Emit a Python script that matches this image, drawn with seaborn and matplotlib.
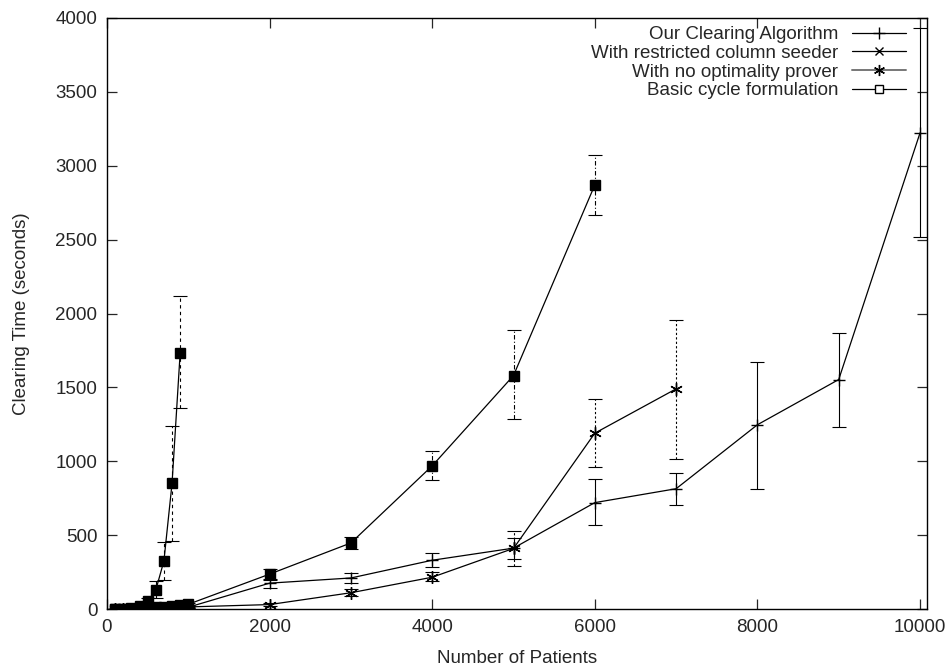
import matplotlib
matplotlib.use("Agg")
import matplotlib.pyplot as plt
from matplotlib.lines import Line2D
import seaborn as sns
import pandas as pd

# ---- data ----
ours_x = [100, 200, 300, 400, 500, 600, 700, 800, 900, 1000,
          2000, 3000, 4000, 5000, 6000, 7000, 8000, 9000, 10000]
ours_y = [1, 1, 2, 2, 3, 4, 5, 7, 9, 12, 175, 210, 330, 412, 720, 814, 1247, 1553, 3222]
ours_lo = [0, 0, 1, 1, 2, 3, 4, 5, 7, 9, 143, 176, 285, 339, 569, 705, 815, 1234, 2515]
ours_hi = [2, 2, 3, 3, 4, 5, 7, 9, 11, 15, 204, 244, 380, 481, 880, 922, 1670, 1871, 3930]

seed_x = [100, 200, 300, 400, 500, 600, 700, 800, 900, 1000, 2000, 3000, 4000, 5000, 6000]
seed_y = [1, 2, 3, 5, 8, 11, 15, 20, 26, 32, 236, 447, 969, 1580, 2870]
seed_lo = [0, 1, 2, 4, 6, 9, 12, 16, 20, 25, 197, 407, 875, 1285, 2670]
seed_hi = [2, 3, 4, 6, 10, 14, 19, 25, 32, 40, 271, 488, 1070, 1885, 3070]

noopt_x = [100, 200, 300, 400, 500, 600, 700, 800, 900, 1000, 2000, 3000, 4000, 5000, 6000, 7000]
noopt_y = [1, 1, 2, 3, 4, 5, 7, 9, 11, 14, 30, 110, 215, 410, 1190, 1490]
noopt_lo = [0, 0, 1, 2, 3, 4, 5, 7, 8, 10, 22, 88, 188, 292, 963, 1015]
noopt_hi = [2, 2, 3, 4, 5, 7, 9, 11, 14, 18, 40, 135, 250, 530, 1424, 1955]

basic_x = [100, 200, 300, 400, 500, 600, 700, 800, 900]
basic_y = [1, 3, 6, 18, 55, 128, 325, 850, 1735]
basic_lo = [0, 2, 4, 12, 35, 75, 195, 460, 1362]
basic_hi = [2, 4, 8, 25, 75, 190, 455, 1240, 2120]

labels = ["Our Clearing Algorithm", "With restricted column seeder",
          "With no optimality prover", "Basic cycle formulation"]

x_ticks = [0, 2000, 4000, 6000, 8000, 10000]
y_ticks = [0, 500, 1000, 1500, 2000, 2500, 3000, 3500, 4000]

# ---- style ----
FS = 13.5
sns.set_style("ticks")
plt.rcParams['font.family'] = ['Liberation Sans', 'DejaVu Sans']
plt.rcParams['font.size'] = FS

fig = plt.figure(figsize=(9.48, 6.68), dpi=100)
ax = fig.add_axes([107 / 948, 1 - 609 / 668, 820 / 948, 591 / 668])

AST = (6, 2, 0)
series = [
    (ours_x, ours_y, ours_lo, ours_hi, "+", (0, ())),
    (seed_x, seed_y, seed_lo, seed_hi, "s", (0, (4, 2, 1, 2))),
    (noopt_x, noopt_y, noopt_lo, noopt_hi, AST, (0, (2, 2))),
    (basic_x, basic_y, basic_lo, basic_hi, "s", (0, (3, 3))),
]

for (xs, ys, lo, hi, mk, els) in series:
    df = pd.DataFrame({"x": xs, "y": ys})
    yerr = [[y - l for y, l in zip(ys, lo)], [h - y for y, h in zip(ys, hi)]]
    eb = ax.errorbar(xs, ys, yerr=yerr, fmt="none", ecolor="black",
                     elinewidth=0.8, capsize=5, capthick=0.8, zorder=2)
    for lc in eb[2]:
        lc.set_linestyle(els)
    sns.lineplot(data=df, x="x", y="y", ax=ax, color="black", marker=mk,
                 markersize=9 if mk != "s" else 7, markeredgecolor="black",
                 markerfacecolor="black", markeredgewidth=1.0, linewidth=0.9,
                 estimator=None, sort=False, legend=False, zorder=3)

ax.set_xlim(0, 10086)
ax.set_ylim(0, 4000)
ax.set_xticks(x_ticks)
ax.set_yticks(y_ticks)
ax.tick_params(direction="in", length=7, width=0.9, top=True, right=True,
               labelsize=FS, pad=7)
for s in ax.spines.values():
    s.set_linewidth(1.0)
    s.set_color("black")
ax.set_xlabel("Number of Patients", fontsize=FS, labelpad=10)
ax.set_ylabel("Clearing Time (seconds)", fontsize=FS, labelpad=18)

handles = [
    Line2D([], [], color="black", lw=0.9, marker="+", ms=8),
    Line2D([], [], color="black", lw=0.9, marker="x", ms=6),
    Line2D([], [], color="#777777", lw=1.4, marker=AST, ms=8, mfc="black", mec="black"),
    Line2D([], [], color="black", lw=0.9, marker="s", ms=6, mfc="white", mec="black"),
]
leg = ax.legend(handles, labels, loc="upper right", frameon=False,
                markerfirst=False, handlelength=2.9, fontsize=FS,
                borderaxespad=0.2, labelspacing=0.08, handletextpad=0.7,
                bbox_to_anchor=(0.988, 1.005))
for t in leg.get_texts():
    t.set_ha("right")

fig.savefig("out.png", dpi=100)
